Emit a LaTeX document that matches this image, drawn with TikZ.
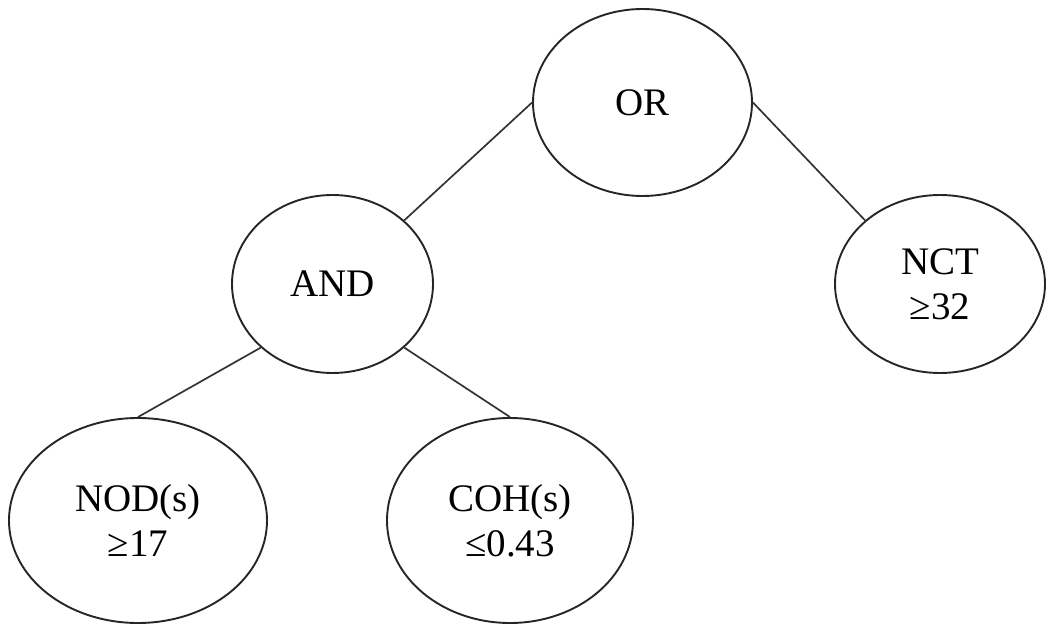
\documentclass[tikz,border=0pt]{standalone}
\usepackage{fontspec}
\setmainfont{Liberation Serif}
\usetikzlibrary{shapes.geometric}
\begin{document}
\begin{tikzpicture}[x=1pt,y=-1pt,
  gate/.style={draw=black!85, line width=1.9pt, ellipse, inner sep=0pt, align=center, font=\fontsize{39}{45}\selectfont},
  link/.style={draw=black!80, line width=1.7pt}]
\useasboundingbox (0,0) rectangle (1047,628);
\node[gate, minimum width=219pt, minimum height=187pt] (or) at (642.5,102.5) {OR};
\node[gate, minimum width=201pt, minimum height=178pt] (and) at (332.5,284) {AND};
\node[gate, minimum width=210pt, minimum height=178pt] (nct) at (940,284) {NCT\\≥32};
\node[gate, minimum width=258pt, minimum height=205pt] (nod) at (138,520.5) {NOD(s)\\≥17};
\node[gate, minimum width=246pt, minimum height=205pt] (coh) at (510,520.5) {COH(s)\\≤0.43};
\draw[link] (or.west) -- (and.north east);
\draw[link] (or.east) -- (nct.north west);
\draw[link] (and.south west) -- (nod.north);
\draw[link] (and.south east) -- (coh.north);
\end{tikzpicture}
\end{document}
